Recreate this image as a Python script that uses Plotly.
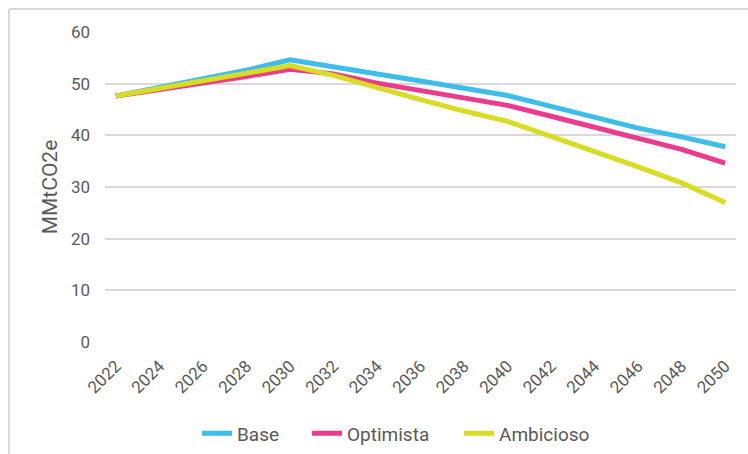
import plotly.graph_objects as go

# Emission scenarios, MMtCO2e, every second year
years = [2022, 2024, 2026, 2028, 2030, 2032, 2034, 2036, 2038, 2040,
         2042, 2044, 2046, 2048, 2050]
base = [47.6, 49.3, 50.9, 52.6, 54.6, 53.3, 51.8, 50.5, 49.1, 47.7,
        45.6, 43.6, 41.4, 39.7, 37.8]
optimista = [47.6, 48.8, 50.1, 51.4, 52.8, 51.9, 50.1, 48.6, 47.2, 45.8,
             43.7, 41.6, 39.3, 37.3, 34.6]
ambicioso = [47.6, 49.1, 50.6, 52.0, 53.5, 51.6, 49.2, 46.9, 44.7, 42.7,
             39.8, 36.9, 33.9, 30.8, 27.0]
tick_years = list(range(2022, 2051, 2))

# name, values, colour, legend entry width (px)
series = [
    ("Base", base, "#3dbdeb", 65),
    ("Optimista", optimista, "#ec3b8c", 107),
    ("Ambicioso", ambicioso, "#d8dc22", 92),
]

fig = go.Figure()
for name, vals, color, lw in series:
    fig.add_trace(go.Scatter(
        x=years, y=vals, name=name, mode="lines",
        line=dict(color=color, width=5), legendwidth=lw,
    ))

# plot area geometry in pixels (for the outer frame)
L, R, T, B = 105, 12, 32, 112.4
W = 748 - L - R
H = 454 - T - B

def px_x(p):
    return (p - L) / W

def px_y(p):
    return (454 - B - p) / H

fig.add_shape(type="line", xref="paper", yref="paper",
              x0=px_x(9), x1=px_x(800), y0=px_y(9), y1=px_y(9),
              line=dict(color="#d9d9d9", width=2))
fig.add_shape(type="line", xref="paper", yref="paper",
              x0=px_x(9), x1=px_x(9), y0=px_y(9), y1=px_y(500),
              line=dict(color="#d9d9d9", width=2))

fig.update_layout(
    width=748, height=454,
    margin=dict(l=L, r=R, t=T, b=B, autoexpand=False),
    paper_bgcolor="white", plot_bgcolor="white",
    font=dict(family="Roboto", size=16, color="#595959"),
    xaxis=dict(
        range=[2021.5, 2050.5], tickmode="array", tickvals=tick_years,
        ticktext=[str(y) for y in tick_years], tickangle=-45,
        showgrid=False, zeroline=False, showline=False, ticks="",
        automargin=False, ticklabelstandoff=10, ticklabelshift=0,
        tickfont=dict(size=17, color="#595959"),
    ),
    yaxis=dict(
        range=[0, 60], dtick=10, showgrid=True, gridcolor="#d9d9d9",
        gridwidth=1.5, zeroline=False, showline=False, ticks="",
        automargin=False, ticklabelstandoff=14,
        tickfont=dict(size=17, color="#595959"),
        title=dict(text="MMtCO2e", font=dict(size=21, color="#595959"),
                   standoff=7),
    ),
    legend=dict(orientation="h", x=px_x(197), xanchor="left", y=px_y(433),
                yanchor="middle", itemwidth=30,
                font=dict(size=19, color="#595959")),
    showlegend=True,
)

fig.write_html("out.html")
